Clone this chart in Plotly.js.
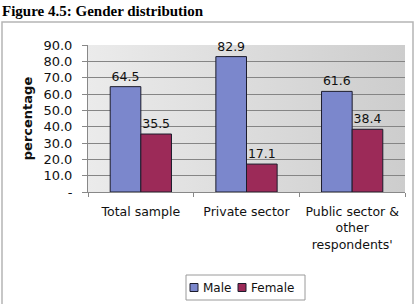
<!DOCTYPE html>
<html>
<head>
<meta charset="utf-8">
<script src="https://cdn.plot.ly/plotly-3.0.1.min.js"></script>
<style>
  html, body { margin: 0; padding: 0; background: #ffffff; }
  #chart { width: 417px; height: 304px; }
</style>
</head>
<body>
<div id="chart"></div>
<script>
// Gender split by respondent group (percent)
const categories = ['Total sample', 'Private sector', 'Public sector &<br>other<br>respondents\''];
const seriesNames = ['Male', 'Female'];
const maleValues = [64.5, 82.9, 61.6];
const femaleValues = [35.5, 17.1, 38.4];
const yTickValues = [0, 10, 20, 30, 40, 50, 60, 70, 80, 90];
const yTickLabels = ['-', '10.0', '20.0', '30.0', '40.0', '50.0', '60.0', '70.0', '80.0', '90.0'];

const FONT = 'Verdana, "DejaVu Sans", sans-serif';
const MALE_COLOR = '#7b87cc';
const FEMALE_COLOR = '#9c2a58';
const OUTLINE = '#1c1c2c';

// soft grey gradient for the plotting area
const bgSvg = '<svg xmlns="http://www.w3.org/2000/svg" width="100" height="100" preserveAspectRatio="none">' +
  '<defs><linearGradient id="g" x1="0" y1="0" x2="1" y2="0">' +
  '<stop offset="0" stop-color="#ebebeb"/><stop offset="1" stop-color="#cdcdcd"/>' +
  '</linearGradient></defs><rect width="100" height="100" fill="url(#g)"/></svg>';
const bgSrc = 'data:image/svg+xml;base64,' + btoa(bgSvg);

const barLine = { color: OUTLINE, width: 1 };
const labelFont = { family: FONT, size: 12.5, color: '#111' };

const traces = [
  {
    type: 'bar', name: seriesNames[0], x: categories, y: maleValues,
    marker: { color: MALE_COLOR, line: barLine },
    text: maleValues.map(v => v.toFixed(1)), textposition: 'outside',
    textfont: labelFont, cliponaxis: false
  },
  {
    type: 'bar', name: seriesNames[1], x: categories, y: femaleValues,
    marker: { color: FEMALE_COLOR, line: barLine },
    text: femaleValues.map(v => v.toFixed(1)), textposition: 'outside',
    textfont: labelFont, cliponaxis: false
  }
];

// pixel → paper helpers for the frame, heading and key
const L = 88, R = 12, T = 45, B = 112, W = 417, H = 304;
const pw = W - L - R, ph = H - T - B;
const px = v => (v - L) / pw;
const py = v => (H - B - v) / ph;

// compact key box below the axis
const keyBox = { x0: 186, x1: 305, y0: 275, y1: 300 };
const keyItems = [
  { name: seriesNames[0], color: MALE_COLOR, sq: 190, tx: 201 },
  { name: seriesNames[1], color: FEMALE_COLOR, sq: 238, tx: 249 }
];
const keyMid = (keyBox.y0 + keyBox.y1) / 2;

const shapes = [
  {
    type: 'rect', xref: 'paper', yref: 'paper',
    x0: px(2), x1: px(413), y0: py(306), y1: py(22),
    line: { color: '#b5b5b5', width: 1.5 }, fillcolor: 'rgba(0,0,0,0)', layer: 'below'
  },
  {
    type: 'rect', xref: 'paper', yref: 'paper',
    x0: px(keyBox.x0), x1: px(keyBox.x1), y0: py(keyBox.y1), y1: py(keyBox.y0),
    line: { color: '#9a9a9a', width: 1 }, fillcolor: '#ffffff', layer: 'below'
  }
];
const annotations = [{
  text: '<b>Figure 4.5: Gender distribution</b>',
  xref: 'paper', yref: 'paper', x: px(0), y: py(1),
  xanchor: 'left', yanchor: 'top', showarrow: false,
  font: { family: '"Liberation Serif", "Times New Roman", serif', size: 15, color: '#000' }
}];
keyItems.forEach(k => {
  shapes.push({
    type: 'rect', xref: 'paper', yref: 'paper',
    x0: px(k.sq), x1: px(k.sq + 8), y0: py(keyMid + 4), y1: py(keyMid - 4),
    line: { color: OUTLINE, width: 1 }, fillcolor: k.color
  });
  annotations.push({
    text: k.name, xref: 'paper', yref: 'paper', x: px(k.tx), y: py(keyMid),
    xanchor: 'left', yanchor: 'middle', showarrow: false,
    font: { family: FONT, size: 12, color: '#111' }
  });
});

const layout = {
  width: W, height: H,
  margin: { l: L, r: R, t: T, b: B, pad: 0 },
  paper_bgcolor: '#ffffff',
  plot_bgcolor: 'rgba(0,0,0,0)',
  font: { family: FONT, size: 12, color: '#111' },
  barmode: 'group',
  bargap: 0.42,
  bargroupgap: 0,
  showlegend: false,
  xaxis: {
    type: 'category',
    showgrid: false, zeroline: false,
    showline: true, linecolor: '#888888', linewidth: 1,
    ticks: 'outside', tickson: 'boundaries', ticklen: 4, tickcolor: '#888888',
    tickfont: { family: FONT, size: 12.5, color: '#111' },
    ticklabelstandoff: 8,
    fixedrange: true
  },
  yaxis: {
    range: [0, 90],
    tickvals: yTickValues, ticktext: yTickLabels,
    showgrid: true, gridcolor: '#858585', gridwidth: 1,
    zeroline: false,
    showline: true, linecolor: '#888888', linewidth: 1,
    ticks: 'outside', ticklen: 5, tickcolor: '#888888',
    tickfont: { family: FONT, size: 13, color: '#111' },
    ticklabelstandoff: 7,
    title: { text: '<b>percentage</b>', font: { family: FONT, size: 13, color: '#111' }, standoff: 7 },
    fixedrange: true
  },
  images: [{
    source: bgSrc, xref: 'paper', yref: 'paper',
    x: 0, y: 1, sizex: 1, sizey: 1, sizing: 'stretch',
    xanchor: 'left', yanchor: 'top', layer: 'below'
  }],
  shapes: shapes,
  annotations: annotations
};

Plotly.newPlot('chart', traces, layout, { displayModeBar: false, staticPlot: true });
</script>
</body>
</html>
